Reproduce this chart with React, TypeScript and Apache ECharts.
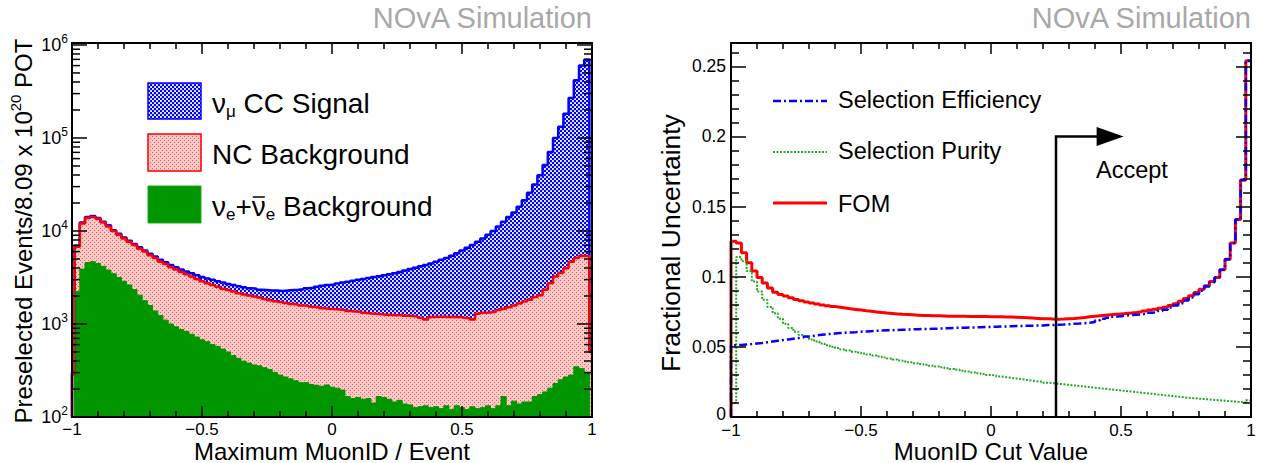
import React, { useEffect, useRef } from 'react';
import * as echarts from 'echarts';

const FONT = "'Liberation Sans', Arial, Helvetica, sans-serif";

// ---------- Left panel: 101 bins (width 0.02) centred on -1.00 + 0.02k, axis shows [-1, 1]
const histBinWidth = 0.02;
const histFirstCentre = -1.0;
// stacked totals as drawn (numu CC + NC + nue), (NC + nue), (nue)
const totalAll = [
  302, 6920, 12300, 14100, 14500, 13800, 12600, 11500, 10200, 9330,
  8510, 7850, 7240, 6680, 6170, 5690, 5310, 4900, 4620, 4320,
  4070, 3850, 3670, 3510, 3350, 3200, 3090, 2990, 2880, 2790,
  2690, 2630, 2540, 2480, 2430, 2400, 2340, 2320, 2290, 2290,
  2260, 2290, 2320, 2340, 2370, 2430, 2450, 2510, 2570, 2630,
  2660, 2720, 2790, 2850, 2920, 2990, 3050, 3130, 3200, 3270,
  3350, 3430, 3510, 3630, 3760, 3890, 4030, 4170, 4320, 4470,
  4680, 4900, 5130, 5430, 5750, 6170, 6610, 7080, 7670, 8320,
  9120, 10000, 11200, 12600, 14100, 15800, 18200, 21400, 25700, 31600,
  39800, 51300, 70800, 100000, 132000, 182000, 269000, 417000, 603000, 692000,
  525,
];
const totalBkg = [
  282, 6760, 12000, 13800, 14100, 13500, 12300, 11200, 10000, 9120,
  8320, 7670, 7080, 6460, 6030, 5500, 5130, 4680, 4420, 4070,
  3850, 3630, 3430, 3240, 3050, 2880, 2750, 2630, 2510, 2400,
  2320, 2240, 2140, 2070, 2020, 1970, 1930, 1860, 1800, 1760,
  1720, 1680, 1640, 1620, 1580, 1570, 1530, 1510, 1480, 1460,
  1450, 1430, 1410, 1380, 1360, 1350, 1320, 1300, 1290, 1270,
  1260, 1250, 1240, 1260, 1230, 1220, 1200, 1170, 1120, 1190,
  1200, 1200, 1190, 1200, 1190, 1170, 1150, 1120, 1290, 1320,
  1330, 1350, 1410, 1460, 1510, 1580, 1660, 1740, 1820, 1950,
  2040, 2340, 2750, 3240, 3550, 3980, 4680, 5130, 5370, 5400,
  500,
];
const nueBkg = [
  50, 2240, 3890, 4570, 4680, 4470, 4170, 3800, 3470, 3160,
  2880, 2630, 2340, 2040, 1780, 1580, 1380, 1230, 1100, 1000,
  933, 871, 832, 776, 724, 676, 646, 603, 575, 537,
  501, 457, 427, 398, 380, 363, 355, 339, 324, 302,
  282, 269, 257, 245, 234, 236, 224, 219, 214, 221,
  209, 204, 195, 166, 158, 162, 155, 158, 141, 166,
  162, 155, 145, 151, 138, 135, 126, 129, 132, 126,
  129, 123, 132, 120, 132, 126, 120, 129, 123, 126,
  132, 123, 132, 166, 132, 148, 138, 145, 145, 166,
  174, 186, 204, 229, 251, 269, 282, 347, 331, 302,
  80,
];

// ---------- Right panel: 100 bins (width 0.02) from -1 to 1
const cutBinLow = -1.0;
const cutBinWidth = 0.02;
const fomUnc = [
  0.1252, 0.1240, 0.1170, 0.1100, 0.1040, 0.0995, 0.0955, 0.0920, 0.0890, 0.0874,
  0.0862, 0.0850, 0.0838, 0.0829, 0.0820, 0.0812, 0.0805, 0.0799, 0.0793, 0.0787,
  0.0782, 0.0777, 0.0772, 0.0767, 0.0762, 0.0757, 0.0753, 0.0749, 0.0745, 0.0741,
  0.0738, 0.0735, 0.0732, 0.0730, 0.0728, 0.0726, 0.0724, 0.0723, 0.0722, 0.0721,
  0.0720, 0.0719, 0.0719, 0.0718, 0.0718, 0.0717, 0.0717, 0.0716, 0.0716, 0.0715,
  0.0715, 0.0714, 0.0713, 0.0712, 0.0711, 0.0709, 0.0707, 0.0705, 0.0703, 0.0701,
  0.0700, 0.0698, 0.0697, 0.0698, 0.0700, 0.0702, 0.0705, 0.0709, 0.0714, 0.0718,
  0.0722, 0.0726, 0.0729, 0.0732, 0.0735, 0.0738, 0.0741, 0.0745, 0.0750, 0.0756,
  0.0762, 0.0768, 0.0775, 0.0783, 0.0795, 0.0808, 0.0825, 0.0845, 0.0865, 0.0888,
  0.0910, 0.0935, 0.0965, 0.0995, 0.1050, 0.1124, 0.1240, 0.1407, 0.1690, 0.2540,
];
const effUnc = [
  0.0512, 0.0514, 0.0517, 0.0520, 0.0524, 0.0528, 0.0533, 0.0538, 0.0543, 0.0548,
  0.0553, 0.0558, 0.0563, 0.0568, 0.0574, 0.0579, 0.0584, 0.0588, 0.0592, 0.0595,
  0.0598, 0.0601, 0.0603, 0.0605, 0.0608, 0.0610, 0.0612, 0.0614, 0.0616, 0.0618,
  0.0619, 0.0621, 0.0622, 0.0623, 0.0625, 0.0626, 0.0627, 0.0628, 0.0629, 0.0630,
  0.0632, 0.0633, 0.0635, 0.0636, 0.0637, 0.0638, 0.0639, 0.0640, 0.0641, 0.0642,
  0.0643, 0.0645, 0.0646, 0.0647, 0.0648, 0.0649, 0.0650, 0.0651, 0.0652, 0.0653,
  0.0655, 0.0656, 0.0657, 0.0659, 0.0662, 0.0665, 0.0666, 0.0668, 0.0672, 0.0677,
  0.0690, 0.0700, 0.0708, 0.0714, 0.0719, 0.0723, 0.0726, 0.0728, 0.0732, 0.0737,
  0.0743, 0.0748, 0.0755, 0.0765, 0.0780, 0.0795, 0.0810, 0.0830, 0.0852, 0.0875,
  0.0900, 0.0930, 0.0960, 0.0995, 0.1050, 0.1124, 0.1240, 0.1407, 0.1690, 0.2540,
];
const purUnc = [
  0.0100, 0.1140, 0.1110, 0.1040, 0.0965, 0.0895, 0.0835, 0.0785, 0.0740, 0.0700,
  0.0665, 0.0635, 0.0608, 0.0585, 0.0570, 0.0553, 0.0538, 0.0524, 0.0512, 0.0501,
  0.0491, 0.0482, 0.0474, 0.0466, 0.0459, 0.0452, 0.0445, 0.0438, 0.0431, 0.0424,
  0.0417, 0.0410, 0.0403, 0.0396, 0.0390, 0.0384, 0.0378, 0.0372, 0.0366, 0.0360,
  0.0354, 0.0348, 0.0342, 0.0336, 0.0330, 0.0324, 0.0318, 0.0312, 0.0306, 0.0300,
  0.0296, 0.0289, 0.0284, 0.0279, 0.0274, 0.0269, 0.0264, 0.0259, 0.0254, 0.0251,
  0.0245, 0.0241, 0.0237, 0.0233, 0.0229, 0.0225, 0.0221, 0.0217, 0.0213, 0.0209,
  0.0205, 0.0201, 0.0197, 0.0193, 0.0189, 0.0185, 0.0181, 0.0177, 0.0173, 0.0169,
  0.0165, 0.0161, 0.0157, 0.0153, 0.0149, 0.0145, 0.0141, 0.0137, 0.0134, 0.0131,
  0.0128, 0.0125, 0.0122, 0.0119, 0.0116, 0.0113, 0.0110, 0.0107, 0.0104, 0.0120,
];

const logMin = 100;
const logMax = 1050000;
const logMinorMultipliers = [2, 3, 4, 5, 6, 7, 8, 9];
const logDecades = [100, 1000, 10000, 100000];
const uncMax = 0.2666;
const uncInterval = 0.05;
const cutValue = 0.25;
const arrowTop = 0.2;
const arrowTip = 0.51;

const TICK_FONT = 17;

const svgUrl = (s: string) => 'data:image/svg+xml;charset=utf-8,' + encodeURIComponent(s);
const bluePattern: any = {
  image: svgUrl('<svg xmlns="http://www.w3.org/2000/svg" width="4" height="4"><rect width="4" height="4" fill="#0000ff"/><circle cx="1" cy="1" r="1.05" fill="#ffffff"/><circle cx="3" cy="3" r="1.05" fill="#ffffff"/></svg>'),
  repeat: 'repeat', imageWidth: 4, imageHeight: 4,
};
const pinkPattern: any = {
  image: svgUrl('<svg xmlns="http://www.w3.org/2000/svg" width="4" height="4"><rect width="4" height="4" fill="#fbc8c8"/><rect x="0" y="0" width="1" height="1" fill="#ee6060"/><rect x="2" y="2" width="1" height="1" fill="#ee6060"/></svg>'),
  repeat: 'repeat', imageWidth: 4, imageHeight: 4,
};
const GREEN_FILL = '#009600';

function histPoints(vals: number[], floor: number) {
  const pts: number[][] = [[-1, floor]];
  vals.forEach((v, k) => {
    const lo = Math.max(-1, +(histFirstCentre + histBinWidth * (k - 0.5)).toFixed(4));
    pts.push([lo, v]);
  });
  pts.push([1, vals[vals.length - 1]]);
  return pts;
}
function cutPoints(vals: number[]) {
  const pts: number[][] = [[cutBinLow, 0]];
  vals.forEach((v, k) => pts.push([+(cutBinLow + cutBinWidth * k).toFixed(4), v]));
  pts.push([1, vals[vals.length - 1]]);
  return pts;
}

const minus = (v: number) => (v < 0 ? '\u2212' + Math.abs(v) : String(v));

function xAxisCfg(grid: number, pos: string, labels: boolean, margin: number) {
  return {
    type: 'value', gridIndex: grid, position: pos, min: -1, max: 1, interval: 0.5, z: 10,
    axisLine: { show: true, onZero: false, lineStyle: { color: '#000', width: 2 } },
    axisTick: { show: true, inside: true, length: 11, lineStyle: { color: '#000', width: 1.5 } },
    minorTick: { show: true, splitNumber: 5, length: 6, lineStyle: { color: '#000', width: 1.5 } },
    splitLine: { show: false }, minorSplitLine: { show: false },
    axisLabel: { show: labels, margin, color: '#000', fontSize: TICK_FONT, lineHeight: 16, fontFamily: FONT, formatter: minus },
  };
}
const powFmt = (v: number) => {
  const l = Math.log10(v);
  const e = Math.round(l);
  if (Math.abs(l - e) > 0.01) return '';
  return `{b|10}{e|${e}}`;
};
function logYCfg(pos: string, labels: boolean) {
  return {
    type: 'log', logBase: 10, gridIndex: 0, position: pos, min: logMin, max: logMax, z: 10,
    axisLine: { show: true, onZero: false, lineStyle: { color: '#000', width: 2 } },
    axisTick: { show: true, inside: true, length: 15, lineStyle: { color: '#000', width: 1.5 } },
    minorTick: { show: false }, splitLine: { show: false }, minorSplitLine: { show: false },
    axisLabel: {
      show: labels, margin: 4, formatter: powFmt,
      rich: {
        b: { fontSize: 18, fontFamily: FONT, color: '#000', lineHeight: 24, verticalAlign: 'middle' },
        e: { fontSize: 12, fontFamily: FONT, color: '#000', lineHeight: 10, verticalAlign: 'top' },
      },
    },
  };
}
const linFmt = (v: number) => {
  const r = Math.round(v / uncInterval);
  if (Math.abs(v - r * uncInterval) > 1e-6) return '';
  if (r === 0) return '{z|0}';
  return String(+(r * uncInterval).toFixed(2));
};
function linYCfg(pos: string, labels: boolean) {
  return {
    type: 'value', gridIndex: 1, position: pos, min: 0, max: uncMax, interval: uncInterval, z: 10,
    axisLine: { show: true, onZero: false, lineStyle: { color: '#000', width: 2 } },
    axisTick: { show: true, inside: true, length: 15, lineStyle: { color: '#000', width: 1.5 } },
    minorTick: { show: true, splitNumber: 5, length: 8, lineStyle: { color: '#000', width: 1.5 } },
    splitLine: { show: false }, minorSplitLine: { show: false },
    axisLabel: {
      show: labels, margin: 5, color: '#000', fontSize: TICK_FONT + 0.5, lineHeight: 10, fontFamily: FONT, formatter: linFmt,
      rich: { z: { fontSize: TICK_FONT + 0.5, fontFamily: FONT, color: '#000', lineHeight: 10, padding: [0, 0, 6, 0] } },
    },
  };
}

const logMinorTicks: number[][] = [];
logDecades.forEach((d) => logMinorMultipliers.forEach((m) => logMinorTicks.push([-1, m * d])));

function measure(text: string, size: number) {
  const ctx = document.createElement('canvas').getContext('2d');
  if (!ctx) return size * 0.5 * text.length;
  ctx.font = `${size}px ${FONT}`;
  return ctx.measureText(text).width;
}

function buildOption() {
  const txt = (x: number, y: number, text: string, size: number, extra: any = {}) => ({
    type: 'text', x, y, silent: true, z: 20,
    style: { text, fill: '#000', font: `${size}px ${FONT}`, textAlign: 'left', textVerticalAlign: 'middle', ...extra },
  });
  const richTok = (size: number, lh: number, va: string) => ({ fontSize: size, fontFamily: FONT, fill: '#000', lineHeight: lh, verticalAlign: va });

  const LEG = 28;
  const SUB = 17;
  const legX = 212;
  const nuBarX = legX + measure('\u03BD', LEG) + measure('e', SUB) + measure('+', LEG);
  const nuW = measure('\u03BD', LEG);

  const graphic: any[] = [
    txt(592, 18, 'NOvA Simulation', 29, { fill: '#a8a8a8', textAlign: 'right' }),
    txt(1251, 18, 'NOvA Simulation', 29, { fill: '#a8a8a8', textAlign: 'right' }),
    txt(332, 451, 'Maximum MuonID / Event', 24, { textAlign: 'center' }),
    txt(991, 451, 'MuonID Cut Value', 24, { textAlign: 'center' }),
    {
      type: 'text', x: 23, y: 231, rotation: Math.PI / 2, silent: true, z: 20,
      style: {
        text: '{n|Preselected Events/8.09 x 10}{s|20}{n| POT}', textAlign: 'center', textVerticalAlign: 'middle',
        rich: { n: richTok(24, 30, 'middle'), s: richTok(15, 12, 'top') },
      },
    },
    {
      type: 'text', x: 671, y: 243, rotation: Math.PI / 2, silent: true, z: 20,
      style: { text: 'Fractional Uncertainty', fill: '#000', font: `26.5px ${FONT}`, textAlign: 'center', textVerticalAlign: 'middle' },
    },
    // left legend
    { type: 'rect', shape: { x: 148, y: 83, width: 53, height: 36 }, style: { fill: bluePattern, stroke: '#0000ff', lineWidth: 1.5 }, z: 20 },
    { type: 'rect', shape: { x: 148, y: 134, width: 53, height: 37 }, style: { fill: pinkPattern, stroke: '#ff0000', lineWidth: 1.5 }, z: 20 },
    { type: 'rect', shape: { x: 148, y: 186, width: 53, height: 37 }, style: { fill: GREEN_FILL, stroke: '#22aa22', lineWidth: 1 }, z: 20 },
    {
      type: 'text', x: legX, y: 103, silent: true, z: 20,
      style: { text: '{n|\u03BD}{s|\u03BC}{n| CC Signal}', textVerticalAlign: 'middle', rich: { n: richTok(LEG, 34, 'middle'), s: richTok(SUB, 12, 'bottom') } },
    },
    txt(legX, 154, 'NC Background', LEG),
    {
      type: 'text', x: legX, y: 206, silent: true, z: 20,
      style: { text: '{n|\u03BD}{s|e}{n|+\u03BD}{s|e}{n| Background}', textVerticalAlign: 'middle', rich: { n: richTok(LEG, 34, 'middle'), s: richTok(SUB, 12, 'bottom') } },
    },
    { type: 'line', shape: { x1: nuBarX + 1, y1: 197, x2: nuBarX + nuW - 1, y2: 197 }, style: { stroke: '#000', lineWidth: 1.5 }, z: 20 },
    // right legend
    { type: 'line', shape: { x1: 773, y1: 101, x2: 827, y2: 101 }, style: { stroke: '#0000ff', lineWidth: 2.5, lineDash: [8, 3, 2, 3] }, z: 20 },
    { type: 'line', shape: { x1: 773, y1: 152, x2: 827, y2: 152 }, style: { stroke: '#22aa22', lineWidth: 2, lineDash: [2, 1.5] }, z: 20 },
    { type: 'line', shape: { x1: 773, y1: 203, x2: 827, y2: 203 }, style: { stroke: '#ff0000', lineWidth: 3 }, z: 20 },
    txt(838, 100, 'Selection Efficiency', 23.5),
    txt(838, 151, 'Selection Purity', 23.5),
    txt(838, 204, 'FOM', 23.5),
    txt(1096, 170, 'Accept', 23.5),
  ];

  const histSeries = (name: string, vals: number[], line: string, lw: number, fill: any) => ({
    name, type: 'line', xAxisIndex: 0, yAxisIndex: 0, step: 'end', symbol: 'none', showSymbol: false,
    data: histPoints(vals, logMin), silent: true, clip: true,
    lineStyle: { color: line, width: lw }, areaStyle: { color: fill, opacity: 1, origin: 'start' },
  });
  const uncSeries = (name: string, vals: number[], color: string, lw: number, type: any) => ({
    name, type: 'line', xAxisIndex: 2, yAxisIndex: 2, step: 'end', symbol: 'none', showSymbol: false,
    data: cutPoints(vals), silent: true, clip: true,
    lineStyle: { color, width: lw, type, cap: 'butt' },
  });

  const series: any[] = [
    histSeries('numu CC signal', totalAll, '#0000ff', 2.5, bluePattern),
    histSeries('NC background', totalBkg, '#ff0000', 2.5, pinkPattern),
    histSeries('nue background', nueBkg, GREEN_FILL, 1, GREEN_FILL),
    {
      type: 'custom', xAxisIndex: 0, yAxisIndex: 0, z: 12, silent: true, data: logMinorTicks,
      encode: { x: 0, y: 1 },
      renderItem: (params: any, api: any) => {
        const v = api.value(1);
        const l = api.coord([-1, v]);
        const r = api.coord([1, v]);
        return {
          type: 'group',
          children: [
            { type: 'line', shape: { x1: l[0], y1: l[1], x2: l[0] + 8, y2: l[1] }, style: { stroke: '#000', lineWidth: 1.5 } },
            { type: 'line', shape: { x1: r[0] - 8, y1: r[1], x2: r[0], y2: r[1] }, style: { stroke: '#000', lineWidth: 1.5 } },
          ],
        };
      },
    },
    uncSeries('FOM', fomUnc, '#ff0000', 3, 'solid'),
    uncSeries('Selection Purity', purUnc, '#22aa22', 2, [2, 1.5]),
    uncSeries('Selection Efficiency', effUnc, '#0000ff', 2.5, [8, 3, 2, 3]),
    {
      type: 'custom', xAxisIndex: 2, yAxisIndex: 2, z: 12, silent: true, data: [[cutValue, arrowTop, arrowTip]],
      encode: { x: 0, y: 1 },
      renderItem: (params: any, api: any) => {
        const base = api.coord([api.value(0), 0]);
        const top = api.coord([api.value(0), api.value(1)]);
        const tip = api.coord([api.value(2), api.value(1)]);
        const headLen = 27;
        const half = 9.5;
        return {
          type: 'group',
          children: [
            { type: 'polyline', shape: { points: [base, top, [tip[0] - headLen + 2, top[1]]] }, style: { stroke: '#000', lineWidth: 2.5, fill: null } },
            { type: 'polygon', shape: { points: [[tip[0] - headLen, top[1] - half], [tip[0], top[1]], [tip[0] - headLen, top[1] + half]] }, style: { fill: '#000' } },
          ],
        };
      },
    },
  ];

  return {
    animation: false,
    backgroundColor: '#ffffff',
    textStyle: { fontFamily: FONT },
    grid: [
      { left: 72, top: 43, width: 520, height: 374, containLabel: false, outerBoundsMode: 'none' },
      { left: 731, top: 43, width: 520, height: 374, containLabel: false, outerBoundsMode: 'none' },
    ],
    xAxis: [xAxisCfg(0, 'bottom', true, 4), xAxisCfg(0, 'top', false, 4), xAxisCfg(1, 'bottom', true, 5), xAxisCfg(1, 'top', false, 4)],
    yAxis: [logYCfg('left', true), logYCfg('right', false), linYCfg('left', true), linYCfg('right', false)],
    series,
    graphic,
  };
}

export default function App() {
  const ref = useRef<HTMLDivElement>(null);
  useEffect(() => {
    if (!ref.current) return;
    const chart = echarts.init(ref.current, null, { renderer: 'svg' });
    chart.setOption(buildOption() as any);
    return () => chart.dispose();
  }, []);
  return <div ref={ref} style={{ position: 'fixed', left: 0, top: 0, width: 1262, height: 463, background: '#fff' }} />;
}
